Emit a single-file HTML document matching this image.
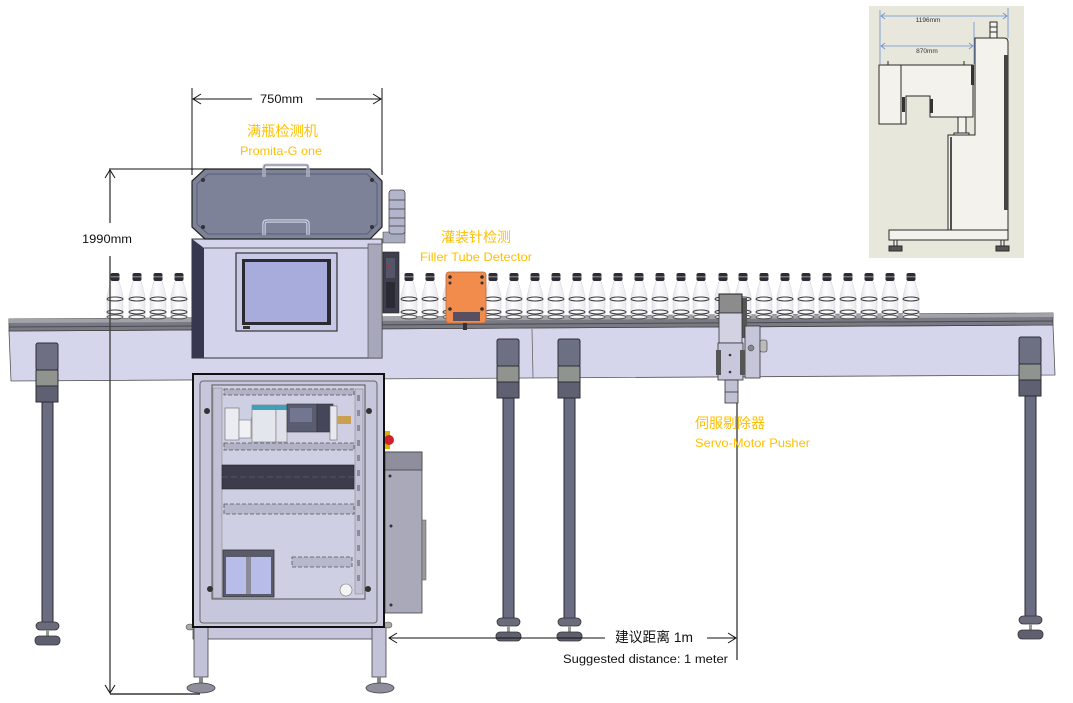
<!DOCTYPE html>
<html>
<head>
<meta charset="utf-8">
<style>
html,body{margin:0;padding:0;background:#fff;}
body{width:1073px;height:703px;overflow:hidden;}
svg{display:block;}
.lbl{font-family:"Liberation Sans","Noto Sans CJK SC",sans-serif;fill:#ffc000;}
.blk{font-family:"Liberation Sans","Noto Sans CJK SC",sans-serif;fill:#111;}
</style>
</head>
<body>
<svg width="1073" height="703" viewBox="0 0 1073 703" xmlns="http://www.w3.org/2000/svg">
<defs>
  <linearGradient id="btl" x1="0" x2="1" y1="0" y2="0">
    <stop offset="0" stop-color="#e4e4ea"/>
    <stop offset="0.4" stop-color="#ffffff"/>
    <stop offset="1" stop-color="#e9e9ef"/>
  </linearGradient>
  <g id="bottle">
    <path d="M-4,281 L4,281 L8,296 L8,318 L-8,318 L-8,296 Z" fill="url(#btl)" stroke="#d8d8de" stroke-width="0.6"/>
    <rect x="-4.5" y="273" width="9" height="8" rx="2" fill="#2c2c36"/>
    <rect x="-4.5" y="276" width="9" height="1.5" fill="#777"/>
    <ellipse cx="0" cy="299" rx="8" ry="2" fill="none" stroke="#3a3a3a" stroke-width="1"/>
    <ellipse cx="0" cy="312" rx="8" ry="2" fill="none" stroke="#3a3a3a" stroke-width="1"/>
    <ellipse cx="0" cy="317" rx="8" ry="2" fill="none" stroke="#555" stroke-width="1"/>
  </g>
  <g id="leg">
    <rect x="0" y="0" width="22" height="27" rx="2" fill="#6d6f82" stroke="#2e2e38" stroke-width="1"/>
    <rect x="0" y="27" width="22" height="16" fill="#8f948f" stroke="#2e2e38" stroke-width="1"/>
    <rect x="0" y="43" width="22" height="16" fill="#5f6172" stroke="#2e2e38" stroke-width="1"/>
    <rect x="6" y="59" width="11" height="222" fill="#6a6c82" stroke="#2a2a33" stroke-width="1"/>
    <rect x="0" y="279" width="23" height="8" rx="4" fill="#6a6c7c" stroke="#333" stroke-width="0.8"/>
    <rect x="10" y="287" width="3" height="6" fill="#999"/>
    <rect x="-1" y="293" width="25" height="9" rx="4" fill="#5e6070" stroke="#333" stroke-width="0.8"/>
  </g>
</defs>

<!-- ===== Conveyor ===== -->
<polygon points="9,331 1053,325 1055,375 11,381" fill="#d5d5ec" stroke="#555" stroke-width="0.8"/>
<line x1="532" y1="329" x2="533" y2="378" stroke="#666" stroke-width="0.8"/>
<polygon points="9,319 1053,313 1053,325 9,331" fill="#7a7a84" stroke="#444" stroke-width="0.8"/>
<polygon points="9,319 1053,313 1053,317 9,323" fill="#a2a2aa"/>
<line x1="9" y1="327" x2="1053" y2="321" stroke="#4a4a52" stroke-width="1"/>

<!-- legs -->
<use href="#leg" x="36" y="343"/>
<use href="#leg" x="497" y="339"/>
<use href="#leg" x="558" y="339"/>
<use href="#leg" x="1019" y="337"/>

<!-- bottles -->
<use href="#bottle" x="115"/><use href="#bottle" x="137"/><use href="#bottle" x="158"/><use href="#bottle" x="179"/>
<use href="#bottle" x="409"/><use href="#bottle" x="430"/><use href="#bottle" x="451"/><use href="#bottle" x="472"/>
<use href="#bottle" x="493"/><use href="#bottle" x="514"/><use href="#bottle" x="535"/><use href="#bottle" x="556"/>
<use href="#bottle" x="577"/><use href="#bottle" x="597"/><use href="#bottle" x="618"/><use href="#bottle" x="639"/>
<use href="#bottle" x="660"/><use href="#bottle" x="681"/><use href="#bottle" x="701"/><use href="#bottle" x="723"/>
<use href="#bottle" x="743"/><use href="#bottle" x="764"/><use href="#bottle" x="785"/><use href="#bottle" x="806"/>
<use href="#bottle" x="827"/><use href="#bottle" x="848"/><use href="#bottle" x="869"/><use href="#bottle" x="890"/>
<use href="#bottle" x="911"/>

<!-- ===== Machine ===== -->
<!-- legs frame -->
<rect x="193" y="627" width="192" height="12" fill="#c6c6dc" stroke="#444" stroke-width="0.8"/>
<rect x="194" y="627" width="14" height="50" fill="#c2c2d8" stroke="#444" stroke-width="0.8"/>
<rect x="372" y="627" width="14" height="50" fill="#c2c2d8" stroke="#444" stroke-width="0.8"/>
<rect x="199" y="677" width="4" height="8" fill="#888"/>
<rect x="377" y="677" width="4" height="8" fill="#888"/>
<ellipse cx="201" cy="688" rx="14" ry="5" fill="#8e8e9c" stroke="#444" stroke-width="0.8"/>
<ellipse cx="380" cy="688" rx="14" ry="5" fill="#8e8e9c" stroke="#444" stroke-width="0.8"/>
<ellipse cx="190" cy="627" rx="4" ry="3" fill="#aaa" stroke="#555" stroke-width="0.6"/>
<ellipse cx="388" cy="625" rx="4" ry="3" fill="#aaa" stroke="#555" stroke-width="0.6"/>

<!-- side box -->
<rect x="385" y="452" width="37" height="161" fill="#a9a9b9" stroke="#444" stroke-width="0.8"/>
<rect x="385" y="452" width="37" height="18" fill="#8e8e9c" stroke="#444" stroke-width="0.8"/>
<rect x="422" y="520" width="4" height="60" fill="#999" stroke="#555" stroke-width="0.5"/>
<circle cx="390" cy="476" r="1.5" fill="#333"/>
<circle cx="391" cy="526" r="1.5" fill="#333"/>
<circle cx="391" cy="605" r="1.5" fill="#333"/>
<!-- red button -->
<rect x="384" y="431" width="6" height="18" fill="#e0b000"/>
<circle cx="389" cy="440" r="5" fill="#d0202a"/>

<!-- cabinet -->
<rect x="193" y="374" width="191" height="253" fill="#cbcbe0" stroke="#111" stroke-width="2"/>
<rect x="200" y="381" width="177" height="242" rx="3" fill="#c6c6dc" stroke="#666" stroke-width="1"/>
<rect x="212" y="385" width="153" height="214" fill="#cfcfe4" stroke="#555" stroke-width="1"/>
<!-- rails -->
<rect x="213" y="388" width="9" height="210" fill="#c2c2d6" stroke="#888" stroke-width="0.6"/>
<rect x="355" y="389" width="8" height="205" fill="#c2c2d6" stroke="#888" stroke-width="0.6"/>
<g fill="#8a8aa0">
<rect x="357" y="395" width="3" height="6"/><rect x="357" y="410" width="3" height="6"/><rect x="357" y="425" width="3" height="6"/><rect x="357" y="440" width="3" height="6"/><rect x="357" y="455" width="3" height="6"/><rect x="357" y="470" width="3" height="6"/><rect x="357" y="485" width="3" height="6"/><rect x="357" y="500" width="3" height="6"/><rect x="357" y="515" width="3" height="6"/><rect x="357" y="530" width="3" height="6"/><rect x="357" y="545" width="3" height="6"/><rect x="357" y="560" width="3" height="6"/><rect x="357" y="575" width="3" height="6"/>
</g>
<!-- ducts -->
<rect x="224" y="389" width="130" height="6" fill="#b2b2c6" stroke="#555" stroke-width="0.8" stroke-dasharray="4,2"/>
<rect x="224" y="443" width="130" height="7" fill="#b2b2c6" stroke="#555" stroke-width="0.8" stroke-dasharray="4,2"/>
<rect x="224" y="504" width="130" height="10" fill="#b8b8cc" stroke="#555" stroke-width="0.8" stroke-dasharray="4,2"/>
<rect x="292" y="557" width="60" height="10" fill="#b8b8cc" stroke="#555" stroke-width="0.8" stroke-dasharray="4,2"/>
<!-- components -->
<rect x="225" y="408" width="14" height="32" fill="#ebebf2" stroke="#666" stroke-width="0.6"/>
<rect x="239" y="420" width="12" height="18" fill="#f0f0f5" stroke="#777" stroke-width="0.6"/>
<rect x="251" y="417" width="36" height="8" fill="#c9a050"/>
<rect x="252" y="405" width="24" height="37" fill="#e4e6ee" stroke="#777" stroke-width="0.6"/>
<rect x="252" y="405" width="24" height="5" fill="#3fa0b8"/>
<rect x="276" y="405" width="11" height="37" fill="#dfe1ea" stroke="#777" stroke-width="0.6"/>
<rect x="276" y="405" width="11" height="5" fill="#3fa0b8"/>
<rect x="287" y="404" width="30" height="28" fill="#5a5d72" stroke="#333" stroke-width="0.6"/>
<rect x="290" y="408" width="22" height="14" fill="#727690"/>
<rect x="317" y="404" width="16" height="28" fill="#44475a" stroke="#333" stroke-width="0.6"/>
<rect x="330" y="406" width="7" height="34" fill="#e8e8f0" stroke="#666" stroke-width="0.6"/>
<rect x="337" y="416" width="14" height="8" fill="#c9a050"/>
<!-- terminal block -->
<rect x="222" y="465" width="132" height="24" fill="#3c3c4c" stroke="#222" stroke-width="0.6"/>
<line x1="222" y1="477" x2="354" y2="477" stroke="#55556a" stroke-width="1" stroke-dasharray="6,3"/>
<!-- lower-left box -->
<rect x="223" y="550" width="51" height="47" fill="#5a5a6a" stroke="#333" stroke-width="0.8"/>
<rect x="226" y="557" width="20" height="37" fill="#b8bce8"/>
<rect x="251" y="557" width="20" height="37" fill="#b8bce8"/>
<rect x="246" y="557" width="5" height="37" fill="#8a8a98"/>
<circle cx="346" cy="590" r="6" fill="#f4f4f6" stroke="#777" stroke-width="0.6"/>
<circle cx="207" cy="411" r="3" fill="#333"/>
<circle cx="369" cy="411" r="3" fill="#333"/>
<circle cx="210" cy="589" r="3" fill="#333"/>
<circle cx="368" cy="589" r="3" fill="#333"/>

<!-- side unit right of head -->
<rect x="383" y="252" width="16" height="61" fill="#3e3e4c" stroke="#222" stroke-width="0.6"/>
<rect x="386" y="258" width="9" height="20" fill="#55556a"/>
<circle cx="388" cy="267" r="1.2" fill="#c22"/>
<rect x="386" y="282" width="9" height="26" fill="#2a2a34"/>

<!-- head box -->
<rect x="192" y="239" width="190" height="119" fill="#d3d4ec" stroke="#333" stroke-width="1"/>
<polygon points="192,239 204,248 204,358 192,358" fill="#373850"/>
<rect x="368" y="244" width="14" height="114" fill="#a6a7ba" stroke="#444" stroke-width="0.6"/>
<line x1="204" y1="248" x2="368" y2="248" stroke="#555" stroke-width="1"/>
<!-- screen -->
<rect x="236" y="253" width="101" height="78" fill="#c7c9e6" stroke="#333" stroke-width="1.2"/>
<rect x="242" y="259" width="89" height="66" fill="#2a2a30"/>
<rect x="245" y="262" width="82" height="60" fill="#a7acdd"/>
<rect x="243" y="326" width="7" height="3" fill="#333"/>

<!-- lid -->
<polygon points="205,169 370,169 382,181 382,227 370,239 205,239 192,227 192,181" fill="#7e8298" stroke="#222" stroke-width="1.2"/>
<polygon points="208,174 367,174 377,184 377,224 367,234 208,234 197,224 197,184" fill="none" stroke="#5b5f74" stroke-width="1"/>
<circle cx="203" cy="180" r="2" fill="#333"/>
<circle cx="372" cy="180" r="2" fill="#333"/>
<circle cx="203" cy="227" r="2" fill="#333"/>
<circle cx="372" cy="227" r="2" fill="#333"/>
<path d="M264,177 L264,167 Q264,165 266,165 L306,165 Q308,165 308,167 L308,177" fill="none" stroke="#c9cce2" stroke-width="3"/>
<path d="M264,177 L264,167 Q264,165 266,165 L306,165 Q308,165 308,167 L308,177" fill="none" stroke="#444" stroke-width="0.6"/>
<path d="M264,235 L264,224 Q264,221 267,221 L305,221 Q308,221 308,224 L308,235" fill="none" stroke="#c9cce2" stroke-width="3.5"/>
<path d="M264,235 L264,224 Q264,221 267,221 L305,221 Q308,221 308,224 L308,235" fill="none" stroke="#444" stroke-width="0.6"/>

<!-- stack light -->
<polygon points="383,232 405,232 405,243 383,243" fill="#a8aabd" stroke="#444" stroke-width="0.6"/>
<rect x="389" y="190" width="16" height="44" rx="3" fill="#b2b5cc" stroke="#444" stroke-width="0.8"/>
<line x1="389" y1="200" x2="405" y2="200" stroke="#555" stroke-width="1"/>
<line x1="389" y1="209" x2="405" y2="209" stroke="#555" stroke-width="1"/>
<line x1="389" y1="218" x2="405" y2="218" stroke="#555" stroke-width="1"/>
<line x1="389" y1="226" x2="405" y2="226" stroke="#555" stroke-width="1"/>

<!-- ===== Filler tube detector ===== -->
<rect x="446" y="272" width="40" height="51" rx="3" fill="#f28c4c" stroke="#b86a3a" stroke-width="0.8"/>
<circle cx="450" cy="277" r="1.8" fill="#333"/><circle cx="482" cy="277" r="1.8" fill="#333"/>
<circle cx="450" cy="309" r="1.8" fill="#333"/><circle cx="482" cy="309" r="1.8" fill="#333"/>
<circle cx="450" cy="283" r="1.5" fill="#333"/><circle cx="482" cy="283" r="1.5" fill="#333"/>
<rect x="453" y="312" width="27" height="9" fill="#585060"/>
<rect x="463" y="323" width="4" height="7" fill="#333"/>

<!-- ===== Servo pusher ===== -->
<rect x="742" y="298" width="5" height="40" fill="#555"/>
<rect x="745" y="326" width="15" height="52" fill="#c6c6da" stroke="#333" stroke-width="0.8"/>
<rect x="760" y="340" width="7" height="12" rx="2" fill="#bbb" stroke="#333" stroke-width="0.6"/>
<circle cx="751" cy="348" r="3" fill="#888" stroke="#333" stroke-width="0.5"/>
<rect x="719" y="294" width="23" height="19" fill="#8c8c8c" stroke="#222" stroke-width="1"/>
<rect x="719" y="313" width="23" height="30" fill="#d2d2e2" stroke="#333" stroke-width="0.8"/>
<rect x="718" y="343" width="25" height="37" fill="#c8c8dc" stroke="#333" stroke-width="0.8"/>
<rect x="716" y="350" width="5" height="25" fill="#555"/>
<rect x="740" y="350" width="5" height="25" fill="#555"/>
<circle cx="730" cy="355" r="1.3" fill="#333"/><circle cx="730" cy="372" r="1.3" fill="#333"/>
<rect x="725" y="380" width="13" height="23" fill="#c0c0d4" stroke="#333" stroke-width="0.8"/>
<line x1="725" y1="392" x2="738" y2="392" stroke="#333" stroke-width="0.8"/>

<!-- ===== Dimension lines ===== -->
<g stroke="#111" stroke-width="1" fill="none">
  <!-- 750mm -->
  <line x1="192" y1="88" x2="192" y2="175"/>
  <line x1="382" y1="88" x2="382" y2="175"/>
  <line x1="193" y1="99" x2="252" y2="99"/>
  <line x1="316" y1="99" x2="381" y2="99"/>
  <polyline points="201,94 193,99 201,104"/>
  <polyline points="373,94 381,99 373,104"/>
  <!-- 1990mm -->
  <line x1="109" y1="169" x2="208" y2="169"/>
  <line x1="110" y1="694" x2="200" y2="694" stroke-width="1.3"/>
</g>
<g stroke="#444" stroke-width="1.4" fill="none">
  <line x1="110" y1="170" x2="110" y2="223"/>
  <line x1="110" y1="256" x2="110" y2="693"/>
  <polyline points="105,178 110,170 115,178" stroke="#111" stroke-width="1"/>
  <polyline points="105,685 110,693 115,685" stroke="#111" stroke-width="1"/>
  <!-- vertical line from pusher -->
  <line x1="737" y1="403" x2="737" y2="660"/>
</g>
<g stroke="#111" stroke-width="1" fill="none">
  <line x1="389" y1="638" x2="605" y2="638"/>
  <polyline points="397,633 389,638 397,643"/>
  <line x1="707" y1="638" x2="736" y2="638"/>
  <polyline points="728,633 736,638 728,643"/>
</g>

<!-- ===== Labels ===== -->
<text class="blk" x="260" y="103" font-size="12" textLength="43" lengthAdjust="spacingAndGlyphs">750mm</text>
<text class="blk" x="82" y="243" font-size="12" textLength="50" lengthAdjust="spacingAndGlyphs">1990mm</text>
<text class="blk" x="615" y="642" font-size="14" textLength="78" lengthAdjust="spacingAndGlyphs">建议距离 1m</text>
<text class="blk" x="563" y="663" font-size="11.5" textLength="165" lengthAdjust="spacingAndGlyphs">Suggested distance: 1 meter</text>

<text class="lbl" x="247" y="136" font-size="14" textLength="71" lengthAdjust="spacingAndGlyphs">满瓶检测机</text>
<text class="lbl" x="240" y="155" font-size="12" textLength="82" lengthAdjust="spacingAndGlyphs">Promita-G one</text>
<text class="lbl" x="441" y="242" font-size="14" textLength="70" lengthAdjust="spacingAndGlyphs">灌装针检测</text>
<text class="lbl" x="420" y="261" font-size="12" textLength="112" lengthAdjust="spacingAndGlyphs">Filler Tube Detector</text>
<text class="lbl" x="695" y="428" font-size="14" textLength="70" lengthAdjust="spacingAndGlyphs">伺服剔除器</text>
<text class="lbl" x="695" y="447" font-size="12" textLength="115" lengthAdjust="spacingAndGlyphs">Servo-Motor Pusher</text>

<!-- ===== Inset side view ===== -->
<rect x="869" y="6" width="155" height="252" fill="#e8e7dc"/>
<g stroke="#6b8fd0" stroke-width="0.8" fill="none">
  <line x1="880" y1="10" x2="880" y2="64"/>
  <line x1="1008" y1="8" x2="1008" y2="38"/>
  <line x1="974" y1="22" x2="974" y2="64"/>
  <line x1="881" y1="16" x2="1007" y2="16"/>
  <polyline points="885,13 881,16 885,19"/>
  <polyline points="1003,13 1007,16 1003,19"/>
  <line x1="881" y1="46" x2="973" y2="46"/>
  <polyline points="885,43 881,46 885,49"/>
  <polyline points="969,43 973,46 969,49"/>
</g>
<text x="928" y="22" font-size="6.5" text-anchor="middle" font-family="Liberation Sans, sans-serif" fill="#333">1196mm</text>
<text x="927" y="53" font-size="6.5" text-anchor="middle" font-family="Liberation Sans, sans-serif" fill="#333">870mm</text>
<g stroke="#2a2a2a" stroke-width="1" fill="#f3f2ec">
  <!-- column -->
  <path d="M975,38 L1004,38 Q1008,38 1008,42 L1008,230 L948,230 L948,135 L975,135 Z"/>
  <rect x="1004" y="55" width="4" height="155" fill="#444" stroke="none"/>
  <line x1="951" y1="137" x2="951" y2="230" stroke-width="1.6"/>
  <!-- stack light -->
  <rect x="990" y="22" width="7" height="16"/>
  <line x1="990" y1="27" x2="997" y2="27"/><line x1="990" y1="32" x2="997" y2="32"/>
  <!-- head -->
  <path d="M879,65 L973,65 L973,117 L930,117 L930,96 L906,96 L906,124 L879,124 Z"/>
  <line x1="901" y1="65" x2="901" y2="124"/>
  <rect x="902" y="97" width="3" height="15" fill="#333" stroke="none"/>
  <rect x="930" y="99" width="3" height="14" fill="#333" stroke="none"/>
  <rect x="971" y="65" width="3" height="20" fill="#333" stroke="none"/>
  <line x1="888" y1="65" x2="888" y2="61"/><line x1="964" y1="65" x2="964" y2="61"/>
  <!-- stem -->
  <rect x="958" y="117" width="8" height="16"/>
  <rect x="954" y="133" width="15" height="2"/>
  <!-- base -->
  <rect x="889" y="230" width="119" height="10"/>
  <rect x="894" y="240" width="3" height="6"/>
  <rect x="1001" y="240" width="3" height="6"/>
  <rect x="889" y="246" width="13" height="5" fill="#555"/>
  <rect x="996" y="246" width="13" height="5" fill="#555"/>
</g>
</svg>
</body>
</html>
